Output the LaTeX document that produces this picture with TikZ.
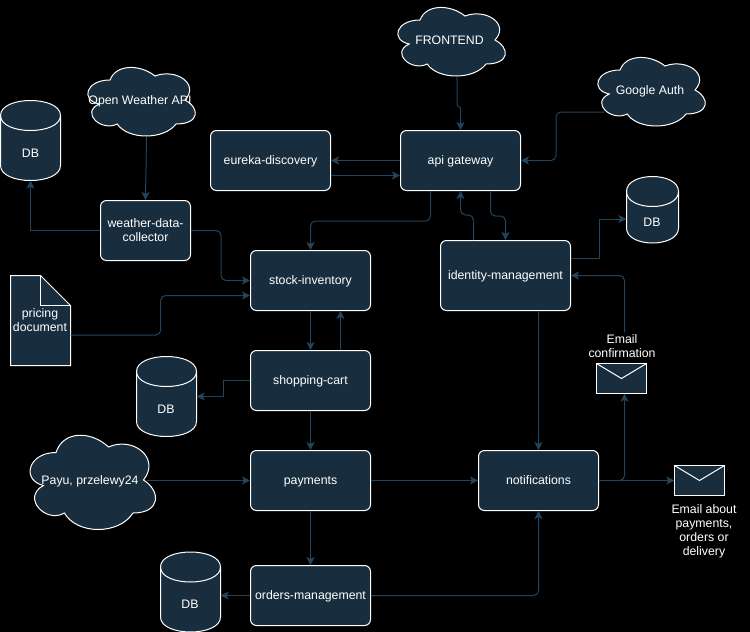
\documentclass[tikz,border=0pt]{standalone}
\usepackage{fontspec}
\setmainfont{Liberation Sans}
\usetikzlibrary{arrows.meta,calc}
\definecolor{nodefill}{HTML}{182E3E}
\definecolor{edgecol}{HTML}{23445D}
\definecolor{bgcol}{HTML}{000000}
\tikzset{
  shapeline/.style={draw=white,fill=nodefill,line width=1pt,line join=miter},
  single/.style={text height=11pt,text depth=4pt},
  boxnode/.style={shapeline,rounded corners=6pt,minimum width=#1,minimum height=60pt,inner sep=0pt,text=white,font=\fontsize{12.3}{14}\selectfont,align=center},
  boxnode/.default=120pt,
  txt/.style={text=white,font=\fontsize{12.3}{14}\selectfont,align=center,inner sep=0pt},
  anchorbox/.style n args={2}{draw=none,fill=none,minimum width=#1,minimum height=#2,inner sep=0pt,text=white,font=\fontsize{12.3}{14}\selectfont,align=center},
  link/.style={draw=edgecol,line width=1pt,rounded corners=5pt,-{Stealth[length=8pt,width=8pt,inset=2pt]}},
}
% cloud: left, top, width, height
\newcommand{\cloudpath}[4]{%
  \begin{scope}[shift={(#1,#2)},x=#3pt,y=-#4pt]
  \path[shapeline] (0.25,0.25) .. controls (0.05,0.25) and (0,0.5) .. (0.16,0.55)
   .. controls (0,0.66) and (0.18,0.9) .. (0.31,0.8)
   .. controls (0.4,1) and (0.7,1) .. (0.8,0.8)
   .. controls (1,0.8) and (1,0.6) .. (0.875,0.5)
   .. controls (1,0.3) and (0.8,0.1) .. (0.625,0.2)
   .. controls (0.5,0.05) and (0.3,0.05) .. (0.25,0.25) -- cycle;
  \end{scope}}
% cylinder: left, top, width, height, ry
\newcommand{\cylpath}[5]{%
  \begin{scope}[shift={(#1,#2)}]
  \path[shapeline] (0,#5) .. controls (0,{-#5/3}) and (#3,{-#5/3}) .. (#3,#5)
    -- (#3,{#4-#5}) .. controls (#3,{#4+#5/3}) and (0,{#4+#5/3}) .. (0,{#4-#5}) -- cycle;
  \path[draw=white,line width=1pt] (0,#5) .. controls (0,{#5*7/3}) and (#3,{#5*7/3}) .. (#3,#5);
  \end{scope}}
% envelope: left, top
\newcommand{\envpath}[2]{%
  \begin{scope}[shift={(#1,#2)}]
  \path[shapeline] (0,0) rectangle (50,30);
  \path[draw=white,line width=1pt] (0,0) -- (25,15) -- (50,0);
  \end{scope}}
\begin{document}
\begin{tikzpicture}[x=1pt,y=-1pt]
\path[fill=bgcol] (0,0) rectangle (750,632);
\useasboundingbox (0,0) rectangle (750,632);
% clouds
\cloudpath{390}{0}{120}{80}
\cloudpath{80}{60}{120}{80}
\cloudpath{590}{50}{120}{80}
\cloudpath{21}{425}{140}{110}
\node[anchorbox={109pt}{74pt}] (front) at (457,40) {};
\node[txt,single] at (449.5,40.5) {FRONTEND};
\node[anchorbox={108pt}{70pt}] (owm) at (142.5,102) {};
\node[txt,single] at (140,100.5) {Open Weather API};
\node[anchorbox={108pt}{70pt}] (google) at (652,92) {};
\node[txt,single] at (650,90.5) {Google Auth};
\node[anchorbox={114pt}{92pt},single] (payu) at (90,480.5) {Payu, przelewy24};
% cylinders
\cylpath{0.5}{100.5}{60}{80}{15}
\node[anchorbox={60pt}{80pt}] (dba) at (30.5,140.5) {};
\node[txt,single] at (30.5,153.5) {DB};
\cylpath{626.5}{176.5}{52}{66.5}{15}
\node[anchorbox={52pt}{66pt}] (dbb) at (652.5,210) {};
\node[txt,single] at (652,222.5) {DB};
\cylpath{136.5}{356.5}{60}{80}{15}
\node[anchorbox={60pt}{80pt}] (dbc) at (166.5,396.5) {};
\node[txt,single] at (166,409.5) {DB};
\cylpath{160.5}{552}{60}{80}{15}
\node[anchorbox={60pt}{80pt}] (dbd) at (190.5,592) {};
\node[txt,single] at (190,604.5) {DB};
% document
\path[shapeline] (10.5,275.5) -- (40.5,275.5) -- (70.5,305.5) -- (70.5,365.5) -- (10.5,365.5) -- cycle;
\path[draw=white,line width=1pt] (40.5,275.5) -- (40.5,305.5) -- (70.5,305.5);
\node[anchorbox={60pt}{90pt}] (doc) at (40.5,320.5) {};
\node[txt] at (40,320) {pricing\\document};
% boxes
\node[boxnode,single] (eureka) at (270.5,160.5) {eureka-discovery};
\node[boxnode,single] (api) at (460.5,160.5) {api gateway};
\node[boxnode=90pt] (weather) at (145.5,230.5) {weather-data-\\collector};
\node[boxnode,single] (stock) at (310.5,280.5) {stock-inventory};
\node[boxnode=130pt,minimum height=70pt,single] (identity) at (505.5,275.5) {identity-management};
\node[boxnode,single] (cart) at (310.5,380.5) {shopping-cart};
\node[boxnode,single] (pay) at (310.5,480.5) {payments};
\node[boxnode,single] (notif) at (538.5,480.5) {notifications};
\node[boxnode,single] (orders) at (310.5,595.5) {orders-management};
% envelopes
\envpath{596.5}{363.5}
\node[anchorbox={50pt}{30pt}] (enva) at (621.5,378.5) {};
\node[txt] (enval) at (622,346) {Email\\confirmation};
\envpath{674.5}{465.5}
\node[anchorbox={50pt}{30pt}] (envb) at (699.5,480.5) {};
\node[txt] (envbl) at (704,531) {Email about\\payments,\\orders or\\delivery};
% connectors
\draw[link,rounded corners=0pt] (front.south) -- ++(0,28) -- ($(api.north)+(0,-22)$) -- (api.north);
\draw[link] ($(google.west)+(6,20)$) -| ($(api.east)+(35,-24)$) |- (api.east);
\draw[link] (api.west) -- (eureka.east);
\draw[link] ($(eureka.east)+(0,15)$) -- ($(api.west)+(0,15)$);
\draw[link] ($(owm.south)+(4,0)$) -- (weather.north);
\draw[link,rounded corners=0pt] (weather.west) -| (dba.south);
\draw[link] (weather.east) -- ++(30,0) |- (stock.west);
\draw[link] ($(doc.east)+(0,14.5)$) -- ++(90,0) |- ($(stock.west)+(0,15)$);
\draw[link] ($(api.south)+(-30,0)$) -- ++(0,30) -| (stock.north);
\draw[link] ($(identity.north)+(-32,0)$) -- ++(0,-25) -| (api.south);
\draw[link] ($(api.south)+(30,0)$) -- ++(0,25) -| (identity.north);
\draw[link,rounded corners=0pt] ($(identity.east)+(0,-17)$) -- ++(28,0) |- ($(dbb.west)+(0,9)$);
\draw[link] (stock.south) -- (cart.north);
\draw[link] ($(cart.north)+(30,0)$) -- ($(stock.south)+(30,0)$);
\draw[link,rounded corners=0pt] (cart.west) -- ++(-27,0) |- (dbc.east);
\draw[link] (cart.south) -- (pay.north);
\draw[link] (payu.east) -- (pay.west);
\draw[link] (pay.east) -- (notif.west);
\draw[link] (pay.south) -- (orders.north);
\draw[link] (orders.west) -- (orders.west -| dbd.east);
\draw[link] (orders.east) -| (notif.south);
\draw[link] (identity.south -| notif.north) -- (notif.north);
\draw[link] (notif.east) -- (envb.west);
\draw[link] (notif.east) -| ($(enva.south)+(3,0)$);
\draw[link] ($(enval.north)+(2.5,-2)$) |- (identity.east);
\end{tikzpicture}
\end{document}
